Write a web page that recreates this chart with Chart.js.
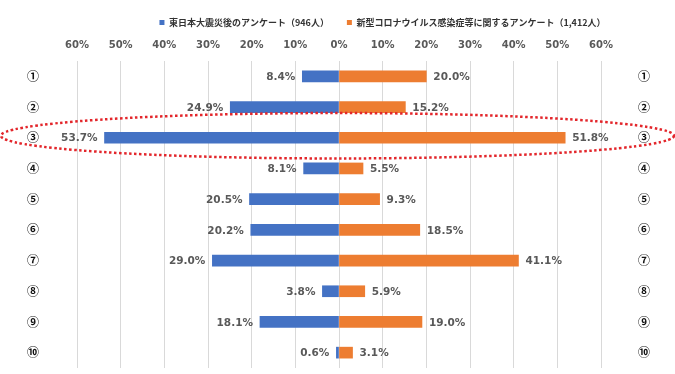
<!DOCTYPE html>
<html lang="ja">
<head>
<meta charset="utf-8">
<script src="https://cdn.jsdelivr.net/npm/chart.js@4"></script>
<style>
    html, body { margin: 0; padding: 0; background: #fff; overflow: hidden; }
    canvas { display: block; }
</style>
</head>
<body>
<canvas id="chart" width="675" height="374"></canvas>
<script>
// 項目ラベル
const itemLabels = ['①', '②', '③', '④', '⑤', '⑥', '⑦', '⑧', '⑨', '⑩'];
// 東日本大震災後のアンケート（％）
const shinsaiValues = [8.4, 24.9, 53.7, 8.1, 20.5, 20.2, 29.0, 3.8, 18.1, 0.6];
// 新型コロナウイルス感染症等に関するアンケート（％）
const coronaValues = [20.0, 15.2, 51.8, 5.5, 9.3, 18.5, 41.1, 5.9, 19.0, 3.1];
const seriesNames = ['東日本大震災後のアンケート（946人）', '新型コロナウイルス感染症等に関するアンケート（1,412人）'];
const axisMin = -60;
const axisMax = 60;
const axisStep = 10;
const highlightIndex = 2;

const colors = { blue: '#4472c4', orange: '#ed7d31', grid: '#d9d9d9', text: '#595959', ring: '#e3262b' };

// バー端の数値ラベル
const valueLabels = {
    id: 'valueLabels',
    afterDatasetsDraw(chart) {
        const ctx = chart.ctx;
        ctx.save();
        ctx.font = 'bold 10.5px "DejaVu Sans"';
        ctx.fillStyle = colors.text;
        ctx.textBaseline = 'middle';
        chart.data.datasets.forEach((ds, di) => {
            chart.getDatasetMeta(di).data.forEach((bar, i) => {
                const v = ds.data[i];
                const txt = Math.abs(v).toFixed(1) + '%';
                if (v < 0) {
                    ctx.textAlign = 'right';
                    ctx.fillText(txt, bar.x - 7, bar.y + 1);
                } else {
                    ctx.textAlign = 'left';
                    ctx.fillText(txt, bar.x + 7, bar.y + 1);
                }
            });
        });
        ctx.restore();
    }
};

// ③を囲む赤い点線の楕円
const highlightRing = {
    id: 'highlightRing',
    afterDraw(chart) {
        const ctx = chart.ctx;
        const y = chart.scales.y;
        const cy = y.getPixelForValue(highlightIndex) - 2;
        const ry = (y.getPixelForValue(1) - y.getPixelForValue(0)) * 0.74;
        ctx.save();
        ctx.strokeStyle = colors.ring;
        ctx.lineWidth = 2.5;
        ctx.setLineDash([2.5, 2.5]);
        ctx.beginPath();
        ctx.ellipse(chart.width / 2, cy, chart.width / 2 - 1, ry, 0, 0, Math.PI * 2);
        ctx.stroke();
        ctx.restore();
    }
};

// 凡例を少し右へ寄せる
const legendShift = {
    id: 'legendShift',
    afterLayout(chart) {
        chart.legend.left += 44;
        chart.legend.right += 44;
    }
};

const numberFont = { family: '"Noto Sans CJK JP"', size: 12, weight: 'bold', lineHeight: 1 };

new Chart(document.getElementById('chart'), {
    type: 'bar',
    data: {
        labels: itemLabels,
        datasets: [{
            label: seriesNames[0],
            data: shinsaiValues.map(v => -v),
            backgroundColor: colors.blue,
            barThickness: 11
        }, {
            label: seriesNames[1],
            data: coronaValues,
            backgroundColor: colors.orange,
            barThickness: 11
        }]
    },
    options: {
        indexAxis: 'y',
        responsive: false,
        animation: false,
        layout: { padding: { top: 0, bottom: 4, left: 27, right: 25 } },
        plugins: {
            legend: {
                position: 'top',
                maxHeight: 29,
                labels: {
                    boxWidth: 5,
                    boxHeight: 5,
                    padding: 18,
                    color: '#333',
                    font: { family: '"Noto Sans CJK JP"', size: 9, weight: 'bold' }
                }
            },
            tooltip: { enabled: false }
        },
        scales: {
            x: {
                position: 'top',
                stacked: true,
                min: axisMin,
                max: axisMax,
                grid: { color: colors.grid, drawTicks: false },
                border: { display: false },
                ticks: {
                    stepSize: axisStep,
                    padding: 10,
                    maxRotation: 0,
                    color: colors.text,
                    font: { family: '"DejaVu Sans"', size: 10, weight: 'bold' },
                    callback: v => Math.abs(v) + '%'
                }
            },
            y: {
                position: 'left',
                stacked: true,
                offset: true,
                grid: { display: false, drawTicks: false },
                border: { display: false },
                ticks: { padding: 0, crossAlign: 'far', color: '#111', font: numberFont },
                afterFit: s => { s.width = 50; }
            },
            y2: {
                type: 'category',
                labels: itemLabels,
                position: 'right',
                offset: true,
                grid: { display: false, drawTicks: false },
                border: { display: false },
                ticks: { padding: 0, crossAlign: 'far', color: '#111', font: numberFont },
                afterFit: s => { s.width = 49; }
            }
        }
    },
    plugins: [valueLabels, highlightRing, legendShift]
});
</script>
</body>
</html>
